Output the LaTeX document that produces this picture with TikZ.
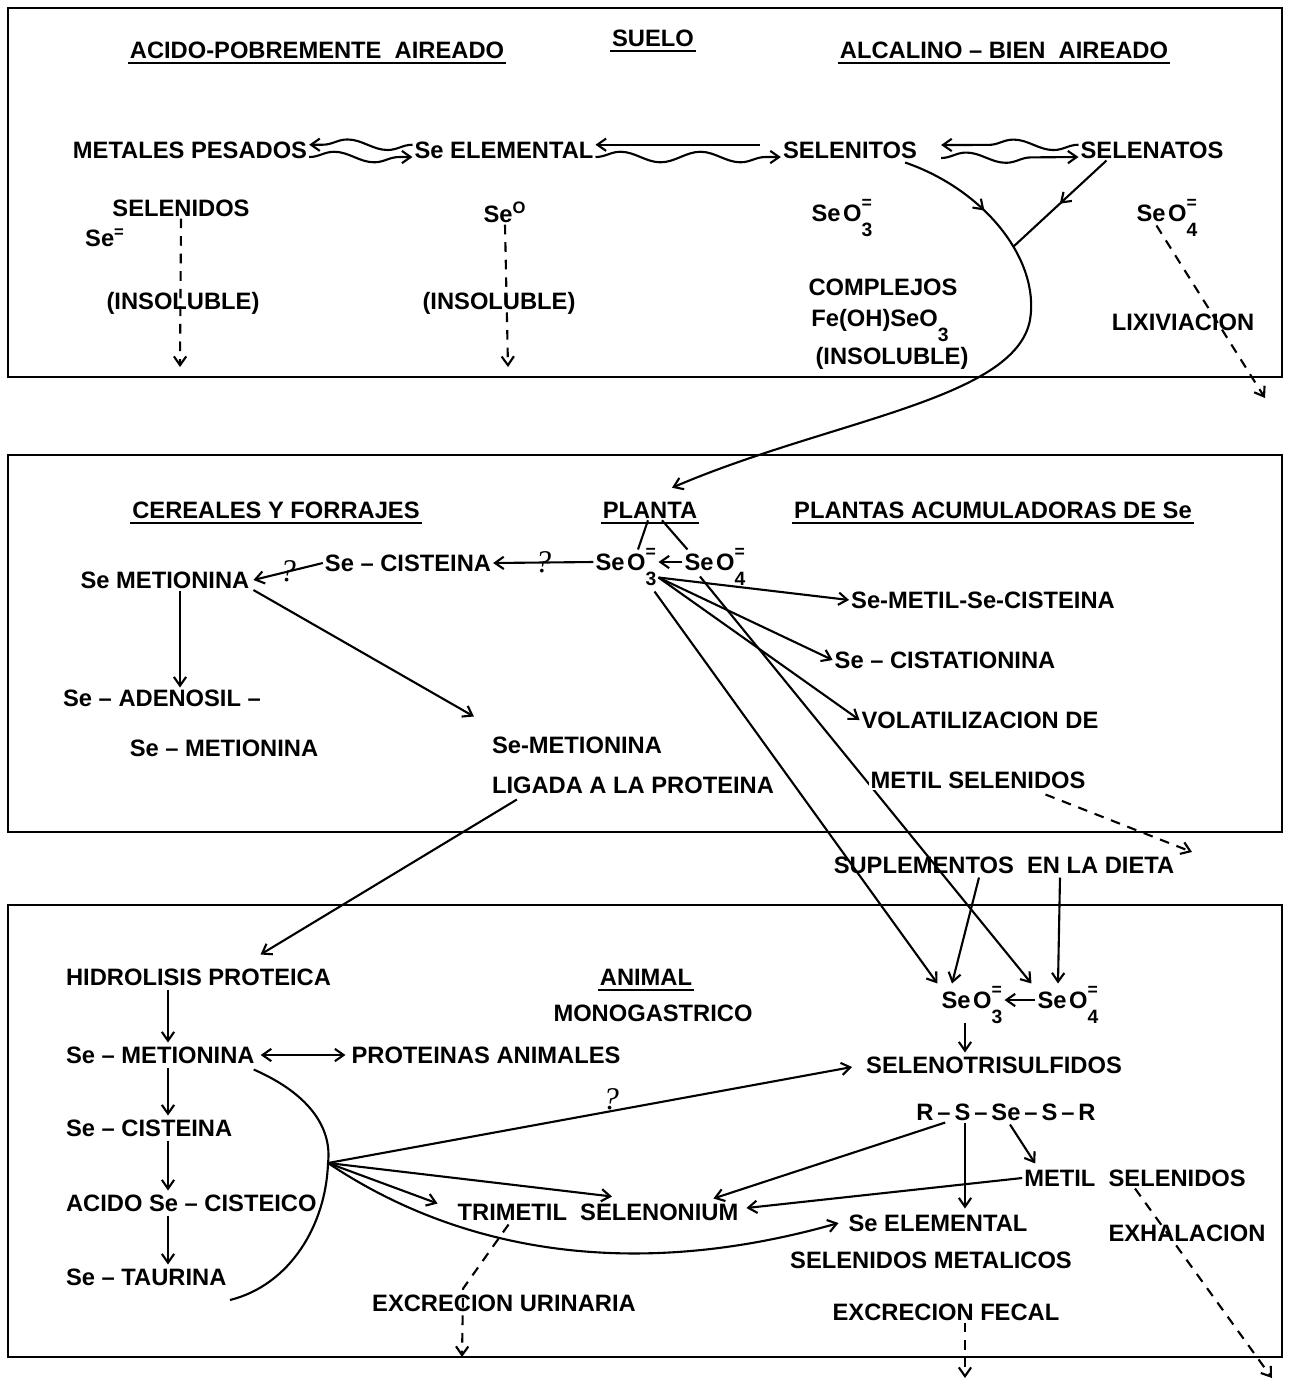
\documentclass[tikz,border=0pt]{standalone}
\usepackage{fontspec}
\setmainfont{Liberation Sans}
\newfontfamily\handfont{Liberation Serif}
\usetikzlibrary{arrows.meta,calc,positioning,decorations.pathmorphing,decorations.markings}
\newcommand{\seox}[1]{Se\hspace{1.5pt}O\rlap{\smash{\raisebox{1.0ex}{\fontsize{10}{10}\selectfont =}}}\smash{\raisebox{-1.2ex}{\fontsize{11}{11}\selectfont #1}}}
\newcommand{\subd}[1]{\smash{\raisebox{-1.2ex}{\fontsize{11}{11}\selectfont #1}}}
\tikzset{txt/.style={font=\bfseries\fontsize{13.5}{16}\selectfont, inner sep=1pt}}
\tikzset{ttl/.style={txt, append after command={([yshift=-1.5pt]\tikzlastnode.south west) edge[-, line width=1.1pt] ([yshift=-1.5pt]\tikzlastnode.south east)}}}
\tikzset{midarr/.style={postaction={decorate, decoration={markings, mark=at position #1 with {\arrow{>}}}}}}
\tikzstyle{box}=[draw, line width=1.1pt]
\tikzstyle{lin}=[line width=1.2pt]
\tikzstyle{ar}=[lin, ->]
\tikzstyle{dsh}=[lin, ->, dash pattern=on 5.5pt off 4.5pt]
\tikzstyle{wavy}=[lin, ->, decorate, decoration={snake, amplitude=3pt, segment length=1.6cm, post length=2mm}]
\tikzstyle{qm}=[font=\handfont\itshape\fontsize{18}{18}\selectfont, inner sep=0pt]

\begin{document}
\begin{tikzpicture}[x=0.02cm, y=-0.02cm, >={Straight Barb[length=5pt,width=7pt]}]
\useasboundingbox (0,0) rectangle (1291,1384);
\draw[box] (8,8) rectangle (1282,377);
\draw[box] (8,455) rectangle (1282,832);
\draw[box] (8,905) rectangle (1282,1357);

\node[ttl] (tAcido) at (317,50) {ACIDO-POBREMENTE\ \ AIREADO};
\node[ttl] (tSuelo) at (653,38) {SUELO};
\node[ttl] (tAlcal) at (1004,50) {ALCALINO -- BIEN\ \ AIREADO};
\node[txt] (metales) at (190,150) {METALES PESADOS};
\node[txt] (seel) at (504,150) {Se ELEMENTAL};
\node[txt] (selenitos) at (850,150) {SELENITOS};
\node[txt] (selenatos) at (1152,150) {SELENATOS};
\node[txt] (selenidos) at (181,208) {SELENIDOS};
\node[txt] (seminus) at (105,238) {Se\textsuperscript{=}};
\node[txt] (insol1) at (183,303) {(INSOLUBLE)};
\node[txt] (sezero) at (505,212) {Se\textsuperscript{O}};
\node[txt] (insol2) at (499,303) {(INSOLUBLE)};
\node[txt] (seo3a) at (842,213) {\seox{3}};
\node[txt] (compl) at (883,287) {COMPLEJOS};
\node[txt] (feoh) at (880,320) {Fe(OH)SeO\subd{3}};
\node[txt] (insol3) at (892,358) {(INSOLUBLE)};
\node[txt] (seo4a) at (1167,213) {\seox{4}};
\node[txt] (lixi) at (1183,322) {LIXIVIACION};
\coordinate (d1) at (180,367);
\coordinate (d2) at (508,367);
\coordinate (d3) at (1265,398);
\coordinate (jn) at (1013,247);

\node[ttl] (cereales) at (276,510) {CEREALES Y FORRAJES};
\node[ttl] (planta) at (650,510) {PLANTA};
\node[ttl] (acum) at (993,510) {PLANTAS ACUMULADORAS DE Se};
\node[txt] (seo3b) at (626,562) {\seox{3}};
\node[txt] (seo4b) at (715,562) {\seox{4}};
\node[txt] (cist) at (408,563) {Se -- CISTEINA};
\node[txt] (semet) at (165,580) {Se METIONINA};
\node[txt] (adeno) at (162,698) {Se -- ADENOSIL --};
\node[txt] (adeno2) at (224,748) {Se -- METIONINA};
\node[txt] (ligada1) at (577,745) {Se-METIONINA};
\node[txt] (ligada2) at (633,785) {LIGADA A LA PROTEINA};
\node[txt] (metcis) at (983,600) {Se-METIL-Se-CISTEINA};
\node[txt] (cista) at (945,660) {Se -- CISTATIONINA};
\node[txt] (volat) at (980,720) {VOLATILIZACION DE};
\node[txt] (suple) at (1004,865) {SUPLEMENTOS\ \ EN LA DIETA};
\coordinate (s3) at ($(seo3b.south east)+(0,5)$);
\coordinate (d4) at (1192,852);

\node[ttl] (animal) at (646,977) {ANIMAL};
\node[txt] (mono) at (653,1013) {MONOGASTRICO};
\node[txt, anchor=west] (hidro) at (64,977) {HIDROLISIS PROTEICA};
\node[txt, anchor=west] (semet3) at (64,1055) {Se -- METIONINA};
\node[txt] (protan) at (486,1055) {PROTEINAS ANIMALES};
\node[txt, anchor=west] (cis3) at (64,1128) {Se -- CISTEINA};
\node[txt, anchor=west] (acido) at (64,1203) {ACIDO Se -- CISTEICO};
\node[txt, anchor=west] (taur) at (64,1277) {Se -- TAURINA};
\node[txt] (seo3c) at (972,1000) {\seox{3}};
\node[txt] (seo4c) at (1068,1000) {\seox{4}};
\node[txt] (trisulf) at (994,1065) {SELENOTRISULFIDOS};
\node[txt] (rssr) at (1006,1112) {R\,--\,S\,--\,Se\,--\,S\,--\,R};
\node[txt] (metsel3) at (1135,1178) {METIL\ \ SELENIDOS};
\node[txt] (trimetil) at (598,1212) {TRIMETIL\ \ SELENONIUM};
\node[txt] (seel3) at (938,1223) {Se ELEMENTAL};
\node[txt] (selmet) at (931,1260) {SELENIDOS METALICOS};
\node[txt] (fecal) at (946,1312) {EXCRECION FECAL};
\node[txt] (exhal) at (1187,1233) {EXHALACION};
\node[txt] (urin) at (504,1303) {EXCRECION URINARIA};
\coordinate (hub) at (328,1163);
\coordinate (arcB) at (230,1300);
\coordinate (d5) at (1272,1378);
\coordinate (d6) at (965,1378);
\coordinate (d7) at (462,1357);

\draw[wavy] ([yshift=3pt]seel.west) -- ([yshift=3pt]metales.east);
\draw[wavy] ([yshift=-4pt]metales.east) -- ([yshift=-4pt]seel.west);
\draw[ar, shorten <=12pt] ([yshift=3pt]selenitos.west) -- ([yshift=3pt]seel.east);
\draw[wavy] ([yshift=-4pt]seel.east) -- ([yshift=-4pt]selenitos.west);
\draw[wavy] ([yshift=3pt]selenatos.west) -- ($(selenitos.east)+(22,-5)$);
\draw[wavy] ($(selenitos.east)+(22,8)$) -- ([yshift=-4pt]selenatos.west);
\draw[dsh] (selenidos.south) -- (d1);
\draw[dsh] (sezero.south) -- (d2);
\draw[dsh] ($(seo4a.south west)+(22,2)$) -- (d3);
\draw[ar, midarr=.15] ($(selenitos.south east)+(-14,2)$) .. controls (985,190) and (1040,260) .. (1030,320) .. controls (1015,400) and (830,420) .. ($(planta.north)+(22,-12)$);
\draw[lin, midarr=.5] ($(selenatos.south west)+(28,0)$) -- (jn);

\draw[lin] ($(planta.south)+(-2,0)$) -- ($(seo3b.north)+(12,-2)$);
\draw[lin] ($(planta.south)+(12,0)$) -- ($(seo4b.north west)+(5,-2)$);
\draw[ar] (seo4b.west) -- (seo3b.east);
\draw[ar] (seo3b.west) -- node[qm] (q1) {?} (cist.east);
\draw[ar] (cist.west) -- node[qm] (q2) {?} ($(semet.east)+(2,0)$);
\draw[ar] ($(semet.south)+(15,0)$) -- ($(adeno.north)+(18,0)$);
\draw[ar] ($(semet.east)+(2,10)$) -- ($(ligada1.north west)+(-16,-18)$);
\draw[ar] (s3) -- (metcis.west);
\draw[ar] (s3) -- (cista.west);
\draw[ar] (s3) -- (volat.west);
\draw[ar] ($(s3)+(-4,14)$) -- ($(seo3c.north west)+(-2,-6)$);
\draw[ar] ($(seo4b.south)+(-15,4)$) -- ($(seo4c.north west)+(-4,-6)$);
\node[txt, fill=white] (metsel) at (978,780) {METIL SELENIDOS};
\draw[dsh] ($(metsel.south east)+(-42,4)$) -- (d4);
\draw[ar] ($(suple.south)+(-25,2)$) -- ($(seo3c.north)+(-20,-6)$);
\draw[ar] ($(suple.south)+(56,2)$) -- ($(seo4c.north)+(-10,-6)$);

\draw[ar] ($(ligada2.south west)+(27,4)$) -- ($(hidro.north)+(62,-12)$);
\draw[ar] ($(hidro.south west)+(104,2)$) -- ($(semet3.north west)+(104,-2)$);
\draw[ar] ($(semet3.south west)+(104,2)$) -- ($(cis3.north west)+(104,-2)$);
\draw[ar] ($(cis3.south west)+(104,2)$) -- ($(acido.north west)+(104,-2)$);
\draw[ar] ($(acido.south west)+(104,2)$) -- ($(taur.north west)+(104,-2)$);
\draw[lin, <->] ($(semet3.east)+(4,0)$) -- ($(protan.west)+(-4,0)$);
\draw[lin] ($(semet3.south east)+(-3,4)$) .. controls (312,1095) and (332,1130) .. (hub) .. controls (326,1225) and (290,1285) .. (arcB);
\draw[ar] (hub) -- node[qm, pos=.54, above] (q3) {?} ($(trisulf.west)+(-12,2)$);
\draw[ar] (hub) -- ($(trimetil.north)+(14,-5)$);
\draw[ar] (hub) -- ($(trimetil.north west)+(-18,2)$);
\draw[ar] (hub) .. controls (450,1245) and (620,1285) .. ($(seel3.west)+(-8,0)$);
\draw[ar] (seo4c.west) -- (seo3c.east);
\draw[ar] ($(seo3c.south)+(-7,12)$) -- ($(trisulf.north)+(-29,-2)$);
\draw[ar] ($(rssr.south west)+(31,0)$) -- ($(trimetil.north east)+(-27,-3)$);
\draw[ar] ($(rssr.south)+(-41,0)$) -- ($(seel3.north)+(27,-4)$);
\draw[ar] ($(rssr.south)+(4,2)$) -- ($(metsel3.north west)+(13,-4)$);
\draw[ar] (metsel3.west) -- ($(trimetil.east)+(6,-4)$);
\draw[dsh] (metsel3.south) -- (d5);
\draw[dsh] ($(fecal.south)+(19,0)$) -- (d6);
\draw[dsh] ($(trimetil.south west)+(53,2)$) -- ($(urin.north west)+(93,-4)$) -- (d7);
\end{tikzpicture}
\end{document}
